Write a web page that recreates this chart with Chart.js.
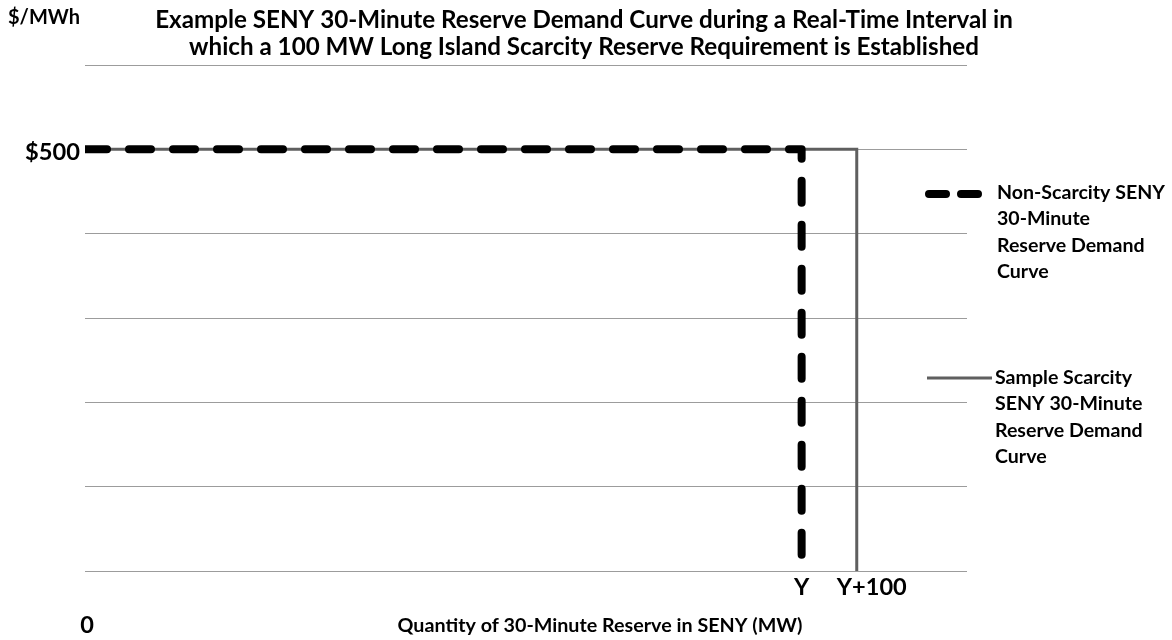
<!DOCTYPE html>
<html>
<head>
<meta charset="utf-8">
<script src="https://cdn.jsdelivr.net/npm/chart.js@4.4.1/dist/chart.umd.min.js"></script>
<style>
html,body{margin:0;padding:0;background:#fff;}
#wrap{width:1172px;height:640px;position:relative;}
</style>
</head>
<body>
<div id="wrap"><canvas id="c" width="1172" height="640"></canvas></div>
<script>
// ---------- data ----------
const titleLines = [
  'Example SENY 30-Minute Reserve Demand Curve during a Real-Time Interval in',
  'which a 100 MW Long Island Scarcity Reserve Requirement is Established'
];
const yAxisUnit = '$/MWh';
const xAxisTitle = 'Quantity of 30-Minute Reserve in SENY (MW)';

const xTickValues = [0, 1300, 1400];
const xTickLabels = ['0', 'Y', 'Y+100'];
const yTickValues = [0, 100, 200, 300, 400, 500, 600];
const yTickLabels = ['', '', '', '', '', '$500', ''];

const seriesNames = [
  ['Non-Scarcity SENY', '30-Minute', 'Reserve Demand', 'Curve'],
  ['Sample Scarcity', 'SENY 30-Minute', 'Reserve Demand', 'Curve']
];
const nonScarcityX = [0, 1300, 1300];
const nonScarcityY = [500, 500, 0];
const scarcityX = [0, 1400, 1400];
const scarcityY = [500, 500, 0];

// ---------- helpers ----------
const FAMILY = 'Lato, "Open Sans", sans-serif';
function fitSize(ctx, text, targetW) {
  ctx.font = 'bold 20px ' + FAMILY;
  return 20 * targetW / ctx.measureText(text).width;
}
const toPoints = (xs, ys) => xs.map((x, i) => ({x: x, y: ys[i]}));

const textPlugin = {
  id: 'texts',
  afterDraw(chart) {
    const ctx = chart.ctx;
    const xs = chart.scales.x, ys = chart.scales.y;
    const area = chart.chartArea;
    ctx.save();
    ctx.fillStyle = '#000';
    ctx.textBaseline = 'alphabetic';

    // unit label
    let s = fitSize(ctx, yAxisUnit, 72);
    ctx.font = 'bold ' + s + 'px ' + FAMILY;
    ctx.textAlign = 'left';
    ctx.fillText(yAxisUnit, 8, 24);

    // title
    s = fitSize(ctx, titleLines[0], 858);
    ctx.font = 'bold ' + s + 'px ' + FAMILY;
    ctx.textAlign = 'center';
    ctx.fillText(titleLines[0], 584, 28);
    ctx.fillText(titleLines[1], 584, 55);

    // y tick labels
    s = fitSize(ctx, '$500', 55);
    ctx.font = 'bold ' + s + 'px ' + FAMILY;
    ctx.textAlign = 'right';
    yTickValues.forEach((v, i) => {
      if (!yTickLabels[i]) return;
      ctx.fillText(yTickLabels[i], area.left - 5, ys.getPixelForValue(v) + 11);
    });

    // x tick labels
    s = fitSize(ctx, 'Y+100', 70);
    ctx.font = 'bold ' + s + 'px ' + FAMILY;
    ctx.textAlign = 'center';
    const xOff = [2, 0, 15];
    const yBase = [633, 595, 595];
    xTickValues.forEach((v, i) => {
      ctx.fillText(xTickLabels[i], xs.getPixelForValue(v) + xOff[i], yBase[i]);
    });

    // x axis title
    s = fitSize(ctx, xAxisTitle, 405);
    ctx.font = 'bold ' + s + 'px ' + FAMILY;
    ctx.textAlign = 'center';
    ctx.fillText(xAxisTitle, 600, 632);

    // legend
    const ds = chart.data.datasets;
    s = fitSize(ctx, seriesNames[0][0], 168);
    const legendPos = [
      {x1: 929, x2: 978, y: 194, tx: 997, ty: 199},
      {x1: 927, x2: 992, y: 378, tx: 995, ty: 384}
    ];
    ds.forEach((d, i) => {
      const p = legendPos[i];
      ctx.save();
      ctx.strokeStyle = d.borderColor;
      ctx.lineWidth = d.borderWidth;
      ctx.lineCap = d.borderCapStyle || 'butt';
      ctx.setLineDash(d.legendDash || []);
      ctx.beginPath();
      ctx.moveTo(p.x1, p.y);
      ctx.lineTo(p.x2, p.y);
      ctx.stroke();
      ctx.restore();
      ctx.font = 'bold ' + s + 'px ' + FAMILY;
      ctx.textAlign = 'left';
      ctx.fillStyle = '#000';
      seriesNames[i].forEach((line, j) => {
        ctx.fillText(line, p.tx, p.ty + j * 26.3);
      });
    });
    ctx.restore();
  }
};

new Chart(document.getElementById('c'), {
  type: 'line',
  data: {
    datasets: [
      {
        label: seriesNames[0].join(' '),
        data: toPoints(nonScarcityX, nonScarcityY),
        borderColor: '#000000',
        borderWidth: 8,
        borderDash: [22, 22],
        legendDash: [17, 15],
        borderCapStyle: 'round',
        borderJoinStyle: 'round',
        pointRadius: 0,
        tension: 0,
        fill: false
      },
      {
        label: seriesNames[1].join(' '),
        data: toPoints(scarcityX, scarcityY),
        borderColor: '#5f5f5f',
        borderWidth: 3,
        borderCapStyle: 'butt',
        borderJoinStyle: 'miter',
        pointRadius: 0,
        tension: 0,
        fill: false
      }
    ]
  },
  options: {
    responsive: false,
    animation: false,
    devicePixelRatio: 1,
    layout: {padding: {left: 85, right: 205, top: 65, bottom: 69}},
    plugins: {
      legend: {display: false},
      title: {display: false},
      tooltip: {enabled: false}
    },
    scales: {
      x: {
        type: 'linear',
        min: 0,
        max: 1600,
        grid: {display: false, drawTicks: false},
        border: {display: false},
        ticks: {display: false},
        afterBuildTicks: (sc) => { sc.ticks = xTickValues.map(v => ({value: v})); }
      },
      y: {
        type: 'linear',
        min: 0,
        max: 600,
        grid: {color: '#9c9c9c', lineWidth: 1, drawTicks: false},
        border: {display: false},
        ticks: {display: false},
        afterBuildTicks: (sc) => { sc.ticks = yTickValues.map(v => ({value: v})); }
      }
    }
  },
  plugins: [textPlugin]
});
</script>
</body>
</html>
